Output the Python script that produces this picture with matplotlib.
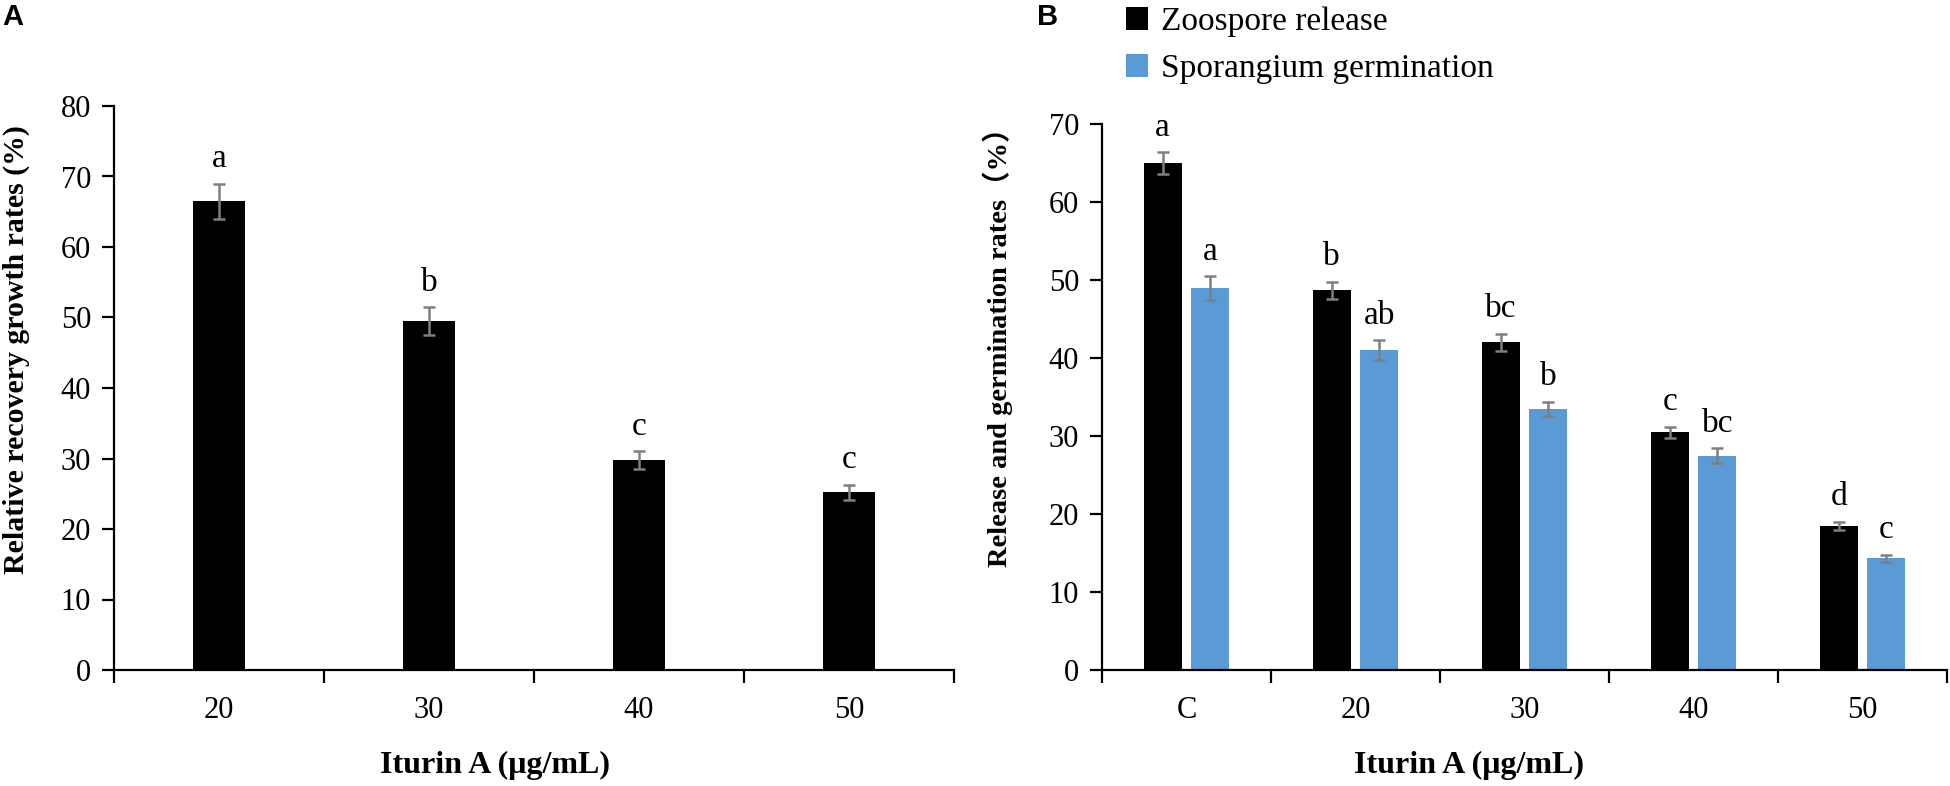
import numpy as np
import matplotlib.pyplot as plt

# panel A data
conc_a = ['20', '30', '40', '50']
growth = [66.5, 49.5, 29.8, 25.2]
growth_err = [2.5, 2.0, 1.3, 1.1]
growth_sig = ['a', 'b', 'c', 'c']

# panel B data
conc_b = ['C', '20', '30', '40', '50']
release = [65.0, 48.7, 42.0, 30.5, 18.5]
release_err = [1.4, 1.1, 1.1, 0.7, 0.5]
release_sig = ['a', 'b', 'bc', 'c', 'd']
germ = [49.0, 41.0, 33.5, 27.5, 14.3]
germ_err = [1.5, 1.3, 0.9, 0.9, 0.5]
germ_sig = ['a', 'ab', 'b', 'bc', 'c']

plt.rcParams['font.family'] = ['Liberation Serif', 'Noto Sans CJK SC']
W, H = 1950, 786
fig = plt.figure(figsize=(W / 100, H / 100), dpi=100)

ax_a = fig.add_axes([114 / W, 116 / H, (954 - 114) / W, (670 - 106) / H])
ax_b = fig.add_axes([1102 / W, 116 / H, (1947 - 1102) / W, (670 - 124) / H])

blue = '#5b9bd5'
err_kw = dict(ecolor='#7f7f7f', elinewidth=1.8, capsize=4, capthick=1.8)


def style(ax, n, ymax, step):
    for s in ['top', 'right']:
        ax.spines[s].set_visible(False)
    for s in ['left', 'bottom']:
        ax.spines[s].set_linewidth(1.6)
    ax.set_xlim(-0.5, n - 0.5)
    ax.set_ylim(0, ymax)
    ax.set_yticks(np.arange(0, ymax + 1, step))
    ax.tick_params(axis='y', direction='out', length=8.5, width=1.6, labelsize=22, pad=8)
    ax.set_xticks(np.arange(n + 1) - 0.5, minor=True)
    ax.tick_params(axis='x', which='major', length=0, labelsize=22, pad=19)
    ax.tick_params(axis='x', which='minor', direction='out', length=9, width=1.6)


# panel A
xa = np.arange(len(conc_a))
ax_a.bar(xa, growth, width=0.248, color='black', yerr=growth_err, error_kw=err_kw)
for x, v, e, s in zip(xa, growth, growth_err, growth_sig):
    ax_a.text(x, v + e + 1.3, s, ha='center', va='bottom', fontsize=24)
style(ax_a, len(conc_a), 80, 10)
ax_a.set_xticks(xa)
ax_a.set_xticklabels(conc_a)
ax_a.set_ylabel('Relative recovery growth rates (%)', fontsize=21.5, fontweight='bold')
ax_a.yaxis.set_label_coords(-0.1, (670 - 350) / 564)
ax_a.set_xlabel('Iturin A (μg/mL)', fontsize=23, fontweight='bold')
ax_a.xaxis.set_label_coords(0.4536, (670 - 773) / 564)
ax_a.xaxis.label.set_verticalalignment('baseline')

# panel B
xb = np.arange(len(conc_b))
w = 0.224
ax_b.bar(xb - 0.141, release, width=w, color='black', yerr=release_err,
         label='Zoospore release', error_kw=err_kw)
ax_b.bar(xb + 0.141, germ, width=w, color=blue, yerr=germ_err,
         label='Sporangium germination', error_kw=err_kw)
for x, v, e, s in zip(xb - 0.141, release, release_err, release_sig):
    ax_b.text(x, v + e + 1.2, s, ha='center', va='bottom', fontsize=24)
for x, v, e, s in zip(xb + 0.141, germ, germ_err, germ_sig):
    ax_b.text(x, v + e + 1.2, s, ha='center', va='bottom', fontsize=24)
style(ax_b, len(conc_b), 70, 10)
ax_b.set_xticks(xb)
ax_b.set_xticklabels(conc_b)
ax_b.set_ylabel('Release and germination rates（%）', fontsize=20.5, fontweight='bold')
ax_b.yaxis.set_label_coords(-0.105, (670 - 340) / 546)
ax_b.set_xlabel('Iturin A (μg/mL)', fontsize=23, fontweight='bold')
ax_b.xaxis.set_label_coords(0.434, (670 - 773) / 546)
ax_b.xaxis.label.set_verticalalignment('baseline')
ax_b.legend(loc='upper left', bbox_to_anchor=(1119 / W, 1 - 0 / H), bbox_transform=fig.transFigure,
            frameon=False, fontsize=24, handlelength=0.66, handleheight=0.66, handletextpad=0.4,
            labelspacing=0.5, borderaxespad=0, borderpad=0.2)

fig.text(2 / W, 1 - 3 / H, 'A', fontsize=21, fontweight='bold', family='Liberation Sans', va='top')
fig.text(1037 / W, 1 - 3 / H, 'B', fontsize=21, fontweight='bold', family='Liberation Sans', va='top')

fig.savefig('out.png', dpi=100)
